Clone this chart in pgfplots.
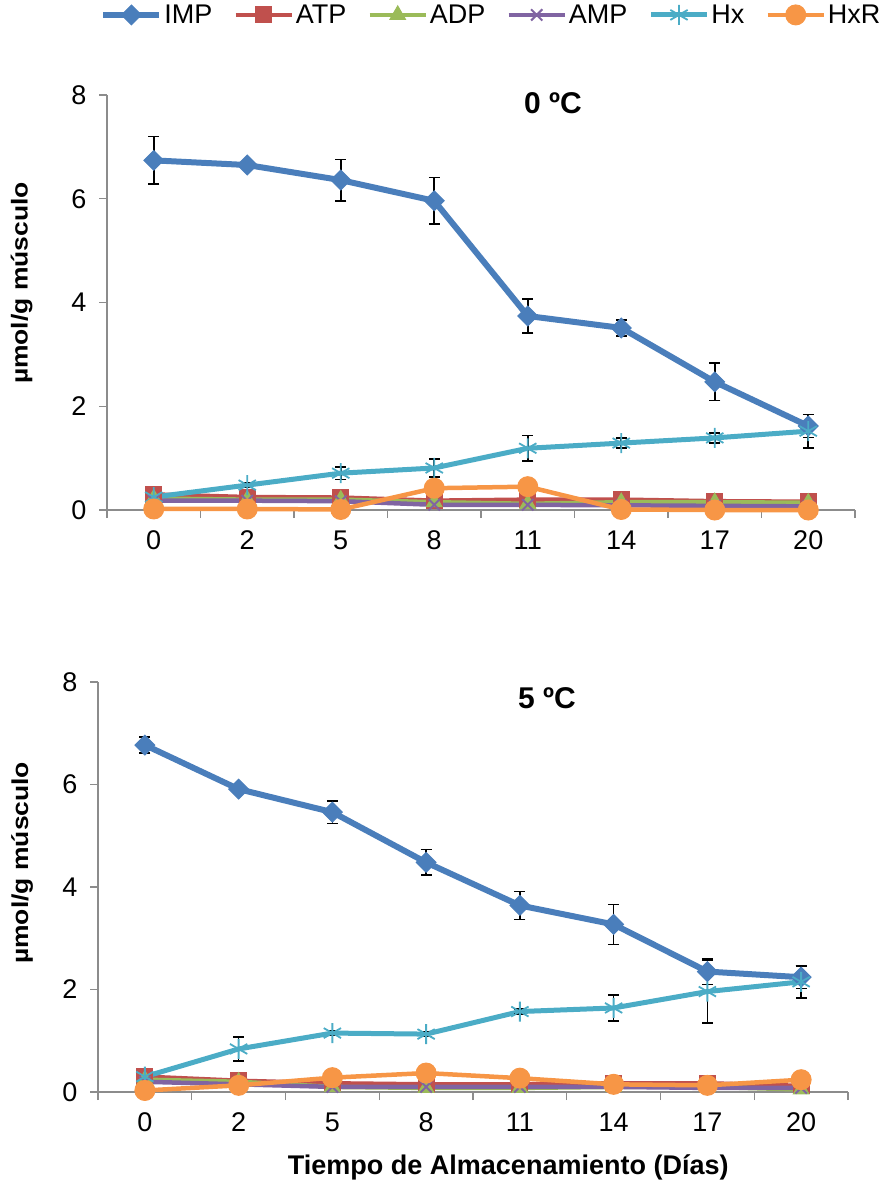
\documentclass[border=0pt]{standalone}
\usepackage{pgfplots}
\usepackage{pgfplotstable}
\pgfplotsset{compat=1.18}
\usepackage{fontspec}
\setmainfont{Liberation Sans}

\definecolor{cIMP}{RGB}{74,126,187}
\definecolor{cATP}{RGB}{192,80,77}
\definecolor{cADP}{RGB}{155,187,89}
\definecolor{cAMP}{RGB}{128,100,162}
\definecolor{cHx}{RGB}{75,172,198}
\definecolor{cHxR}{RGB}{247,150,70}
\definecolor{axgray}{RGB}{140,140,140}

\pgfplotstableread{
x imp impe atp adp amp hx hxe hxr
0 6.74 0.46 0.30 0.22 0.18 0.25 0.03 0.02
1 6.65 0.06 0.25 0.20 0.18 0.48 0.05 0.02
2 6.36 0.40 0.24 0.20 0.17 0.71 0.12 0.01
3 5.96 0.45 0.18 0.15 0.10 0.81 0.17 0.42
4 3.74 0.33 0.20 0.12 0.10 1.19 0.25 0.45
5 3.51 0.15 0.20 0.15 0.09 1.29 0.10 0.01
6 2.47 0.36 0.17 0.15 0.08 1.39 0.10 0.00
7 1.62 0.22 0.16 0.14 0.07 1.52 0.32 0.00
}\topdata

\pgfplotstableread{
x imp impe atp adp amp hx hxe hxr
0 6.77 0.16 0.30 0.24 0.20 0.30 0.03 0.03
1 5.91 0.08 0.22 0.20 0.15 0.84 0.23 0.13
2 5.46 0.22 0.17 0.10 0.10 1.15 0.05 0.28
3 4.48 0.25 0.15 0.08 0.10 1.13 0.05 0.37
4 3.64 0.27 0.15 0.08 0.10 1.57 0.05 0.27
5 3.27 0.39 0.17 0.10 0.10 1.64 0.25 0.15
6 2.35 0.25 0.17 0.10 0.08 1.96 0.61 0.13
7 2.24 0.22 0.12 0.05 0.08 2.15 0.32 0.24
}\botdata

\pgfplotsset{
  panel/.style={
    scale only axis,
    xmin=-0.5, xmax=7.5, ymin=0, ymax=8,
    axis lines*=left,
    axis line style={draw=axgray, line width=1.2pt},
    xtick={0,...,7},
    xticklabels={0,2,5,8,11,14,17,20},
    minor xtick={-0.5,0.5,...,7.5},
    ytick={0,2,4,6,8},
    tick align=outside,
    major tick length=8pt,
    minor tick length=8pt,
    tick style={draw=axgray, line width=1.2pt},
    major x tick style={draw=none},
    tick label style={font=\fontsize{27}{32}\selectfont},
    xticklabel style={yshift=-9pt},
    yticklabel style={xshift=-9pt},
    /pgf/number format/assume math mode=true,
    clip=false,
    ylabel={\scalebox{1.15}[1]{\bfseries\fontsize{23}{28}\selectfont µmol/g músculo}},
    legend image code/.code={\draw[mark repeat=2,mark phase=2,##1] plot coordinates {(0pt,0pt) (28pt,0pt) (56pt,0pt)};},
    error bars/error bar style={black, line width=1.6pt},
    error bars/error mark options={rotate=90, black, mark size=5.5pt, line width=1.6pt},
  },
  simp/.style={color=cIMP, line width=6pt, mark=square*, mark size=7pt, mark options={rotate=45, solid, fill=cIMP, line width=1pt}},
  satp/.style={color=cATP, line width=4.5pt, mark=square*, mark size=8pt, mark options={solid, fill=cATP, line width=1pt}},
  sadp/.style={color=cADP, line width=4.5pt, mark=triangle*, mark size=9pt, mark options={solid, fill=cADP, line width=1pt}},
  samp/.style={color=cAMP, line width=4.5pt, mark=x, mark size=8pt, mark options={solid, line width=2pt}},
  shx/.style={color=cHx, line width=5pt, mark=asterisk, mark size=10pt, mark options={solid, line width=1.8pt}},
  shxr/.style={color=cHxR, line width=4.5pt, mark=*, mark size=10pt, mark options={solid, fill=cHxR, line width=1pt}},
}

\begin{document}
\begin{tikzpicture}
\useasboundingbox (0pt,0pt) rectangle (882pt,-1190pt);

% ---------- top panel: 0 C ----------
\begin{axis}[panel,
  at={(107pt,-510pt)}, anchor=south west,
  width=748pt, height=415pt,
  ylabel style={at={(axis description cs:-0.114,0.547)}, anchor=center},
  legend columns=6,
  legend style={at={(axis description cs:0.514,1.193)}, anchor=center,
    draw=none, fill=none, font=\fontsize{27}{32}\selectfont,
    /tikz/every even column/.append style={column sep=19pt}},
]
\addplot[simp, error bars/.cd, y dir=both, y explicit] table[x=x, y=imp, y error=impe] {\topdata};
\addlegendentry{IMP}
\addplot[satp] table[x=x, y=atp] {\topdata};
\addlegendentry{ATP}
\addplot[sadp] table[x=x, y=adp] {\topdata};
\addlegendentry{ADP}
\addplot[samp] table[x=x, y=amp] {\topdata};
\addlegendentry{AMP}
\addplot[shx, error bars/.cd, y dir=both, y explicit] table[x=x, y=hx, y error=hxe] {\topdata};
\addlegendentry{Hx}
\addplot[shxr] table[x=x, y=hxr] {\topdata};
\addlegendentry{HxR}
\node[font=\bfseries\fontsize{30}{36}\selectfont] at (axis cs:4.27,7.84) {0 ºC};
\end{axis}

% ---------- bottom panel: 5 C ----------
\begin{axis}[panel,
  at={(98pt,-1092pt)}, anchor=south west,
  width=750pt, height=410pt,
  ylabel style={at={(axis description cs:-0.101,0.559)}, anchor=center},
  xlabel={\bfseries Tiempo de Almacenamiento (Días)},
  xlabel style={at={(axis description cs:0.547,-0.185)}, anchor=center, font=\fontsize{27}{32}\selectfont},
]
\addplot[simp, error bars/.cd, y dir=both, y explicit] table[x=x, y=imp, y error=impe] {\botdata};
\addplot[satp] table[x=x, y=atp] {\botdata};
\addplot[sadp] table[x=x, y=adp] {\botdata};
\addplot[samp] table[x=x, y=amp] {\botdata};
\addplot[shx, error bars/.cd, y dir=both, y explicit] table[x=x, y=hx, y error=hxe] {\botdata};
\addplot[shxr] table[x=x, y=hxr] {\botdata};
\node[font=\bfseries\fontsize{30}{36}\selectfont] at (axis cs:4.29,7.69) {5 ºC};
\end{axis}
\end{tikzpicture}
\end{document}
